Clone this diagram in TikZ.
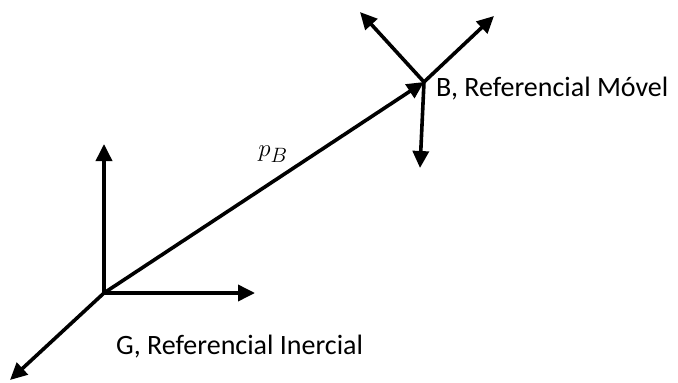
\documentclass[tikz,border=0pt]{standalone}
\usepackage{fontspec}
\setmainfont{Carlito}
\usetikzlibrary{positioning,arrows.meta}

\begin{document}
\begin{tikzpicture}[x=1pt, y=-1pt,
    axis/.style={line width=3.6pt, -{Triangle[length=17pt,width=16pt]}},
    framelbl/.style={font=\fontsize{28}{32}\selectfont, inner sep=0pt},
]
\useasboundingbox (0,0) rectangle (678,383);

% Inertial frame G
\coordinate (G) at (104,293);
\coordinate (Gx) at (255,293);
\coordinate (Gy) at (104,144);
\coordinate (Gz) at (10,380);

% Moving frame B
\coordinate (B) at (424,82);
\coordinate (Bx) at (494,16);
\coordinate (By) at (360,12);
\coordinate (Bz) at (420,168);

% Axes of G
\draw[axis] (G) -- (Gx);
\draw[axis] (G) -- (Gy);
\draw[axis] (G) -- (Gz);

% Axes of B
\draw[axis] (B) -- (Bx);
\draw[axis] (B) -- (By);
\draw[axis] (B) -- (Bz);

% Position vector
\draw[axis] (G) -- (B);
\node[framelbl] (pB) at (273,154) {$p_B$};

% Labels
\node[framelbl, anchor=west] (Blbl) at (436,89) {B, Referencial Móvel};
\node[framelbl, anchor=west] (Glbl) at (116,347) {G, Referencial Inercial};

\end{tikzpicture}
\end{document}
